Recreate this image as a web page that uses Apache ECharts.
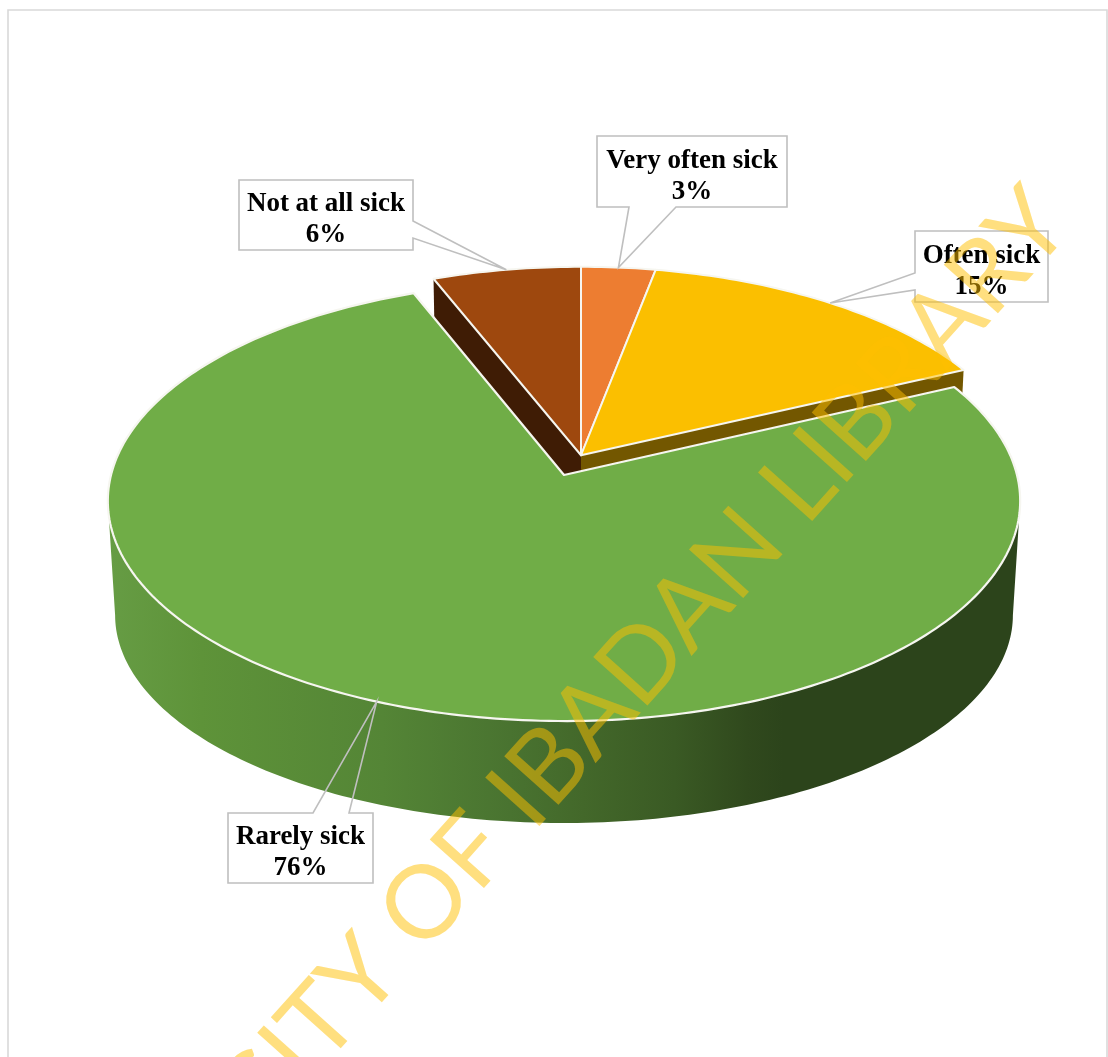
<!DOCTYPE html>
<html>
<head>
<meta charset="utf-8">
<script src="https://cdn.jsdelivr.net/npm/echarts@6/dist/echarts.min.js"></script>
<style>html,body{margin:0;padding:0;background:#fff}#chart{width:1108px;height:1057px}</style>
</head>
<body>
<div id="chart"></div>
<script>
// Self-reported frequency of sickness, clockwise from twelve o'clock
const categories = ['Very often sick', 'Often sick', 'Rarely sick', 'Not at all sick'];
const shares = [3, 15, 76, 6];
const exploded = [true, true, false, true];
const topColors = ['#ed7d31', '#fbbf00', '#70ad47', '#9e480e'];
const sideColors = ['#8e4b1d', '#735700', '#3f6428', '#3f1c05'];

// Perspective model of the disc: unit-circle coordinates are projected to the screen
const disc = { cx: 564, cy: 475, a: 453, b: 217, p: 0.118, drop: 115.5, baseX: 0.984, baseY: 0.945 };
const seated = { v: 0, r: 1, shiftX: 0 };
const pulledOut = { v: -0.092, r: 0.99, shiftX: 17 };
const total = shares.reduce((s, v) => s + v, 0);

function project(u, v, base) {
  const d = 1 - disc.p * v;
  const x = disc.a * u / d, y = disc.b * v / d;
  return base
    ? [disc.cx + disc.baseX * x, disc.cy + disc.drop + disc.baseY * y]
    : [disc.cx + x, disc.cy + y];
}
// Fraction of the full turn -> screen point on the rim of a slice
function rimPoint(frac, off, base) {
  const t = frac * 2 * Math.PI;
  const p = project(off.r * Math.sin(t), -off.r * Math.cos(t) + off.v, base);
  return [p[0] + off.shiftX, p[1]];
}
function apexPoint(off, base) {
  const p = project(0, off.v, base);
  return [p[0] + off.shiftX, p[1]];
}
function arc(f0, f1, off, base) {
  const pts = [], n = Math.max(8, Math.ceil((f1 - f0) * 360));
  for (let i = 0; i <= n; i++) pts.push(rimPoint(f0 + (f1 - f0) * i / n, off, base));
  return pts;
}
function startFraction(idx) {
  let s = 0;
  for (let i = 0; i < idx; i++) s += shares[i];
  return s / total;
}

// Callout boxes: [left, top, right, bottom] and the pair of wedge roots on one edge
const calloutLayout = [
  { box: [597, 136, 787, 207], root: [[676, 207], [629, 207]] },
  { box: [915, 231, 1048, 302], root: [[915, 290], [915, 273]] },
  { box: [228, 813, 373, 883], root: [[313, 813], [349, 813]] },
  { box: [239, 180, 413, 250], root: [[413, 221], [413, 238]] }
];
const calloutFont = 'bold 27px "Liberation Serif"';
const calloutLine = '#bfbfbf';

// Side wall shading of the disc, left to right
const wallStops = [
  [0, '#669c44'], [0.10, '#5e9339'], [0.30, '#548536'], [0.44, '#497330'],
  [0.52, '#43682a'], [0.62, '#3a5a24'], [0.70, '#30491d'], [0.74, '#2c441b'], [1, '#2c441b']
];

function calloutOutline(i, tip) {
  const L = calloutLayout[i], [l, t, r, b] = L.box, [a, c] = L.root;
  const corners = [[l, t], [r, t], [r, b], [l, b]];
  // walk the box clockwise and break into the wedge on the edge holding the roots
  const pts = [];
  const edges = [[0, 1], [1, 2], [2, 3], [3, 0]];
  edges.forEach(([p, q]) => {
    pts.push(corners[p]);
    const P = corners[p], Q = corners[q];
    const on = (m) => (P[0] === Q[0] && m[0] === P[0]) || (P[1] === Q[1] && m[1] === P[1]);
    if (on(a) && on(c)) {
      const dist = (m) => Math.hypot(m[0] - P[0], m[1] - P[1]);
      const [near, far] = dist(a) < dist(c) ? [a, c] : [c, a];
      pts.push(near, tip, far);
    }
  });
  return pts;
}

function renderSlice(params, api) {
  const i = params.dataIndex;
  const value = api.value(0);
  const f0 = startFraction(i), f1 = f0 + value / total, mid = (f0 + f1) / 2;
  const off = exploded[i] ? pulledOut : seated;
  const apex = apexPoint(off, false), apexBase = apexPoint(off, true);
  const children = [];
  const edge = { stroke: '#f6f6f0', lineWidth: 2, lineJoin: 'round' };

  if (exploded[i]) {
    // radial walls of the pulled-out slices; the main slice hides their lower part
    [f0, f1].forEach((f) => {
      const top = rimPoint(f, off, false), low = rimPoint(f, off, true);
      children.push({
        type: 'polygon', z2: 5,
        shape: { points: [apex, top, low, apexBase] },
        style: { fill: sideColors[i] }
      });
    });
    children.push({
      type: 'polygon', z2: 10,
      shape: { points: [apex].concat(arc(f0, f1, off, false)) },
      style: Object.assign({ fill: topColors[i] }, edge)
    });
  } else {
    // front wall spans the rim between the two horizontal extremes of the disc
    const startWall = 0.269, endWall = 0.731;
    const front = arc(startWall, endWall, off, false);
    const back = arc(startWall, endWall, off, true).reverse();
    children.push({
      type: 'polygon', z2: 20,
      shape: { points: front.concat(back) },
      style: {
        fill: { type: 'linear', x: 110, y: 0, x2: 1020, y2: 0, global: true,
          colorStops: wallStops.map(([offset, color]) => ({ offset, color })) }
      }
    });
    children.push({
      type: 'polygon', z2: 30,
      shape: { points: [apex].concat(arc(f0, f1, off, false)) },
      style: Object.assign({ fill: topColors[i] }, edge, { lineWidth: 2.2 })
    });
  }

  // callout: a white box, then the outline whose leader wedge lands mid-slice on the rim
  const tip = rimPoint(mid, off, false);
  const box = calloutLayout[i].box;
  children.push({
    type: 'rect', z2: 40,
    shape: { x: box[0], y: box[1], width: box[2] - box[0], height: box[3] - box[1] },
    style: { fill: '#fff' }
  });
  children.push({
    type: 'polygon', z2: 41,
    shape: { points: calloutOutline(i, tip) },
    style: { fill: 'none', stroke: calloutLine, lineWidth: 1.6, lineJoin: 'miter' }
  });
  children.push({
    type: 'text', z2: 42,
    style: {
      text: categories[i] + '\n' + value + '%',
      x: (box[0] + box[2]) / 2, y: (box[1] + box[3]) / 2 + 5,
      align: 'center', verticalAlign: 'middle',
      font: calloutFont, lineHeight: 31, fill: '#000'
    }
  });
  return { type: 'group', children };
}

const chart = echarts.init(document.getElementById('chart'), null, { renderer: 'canvas' });
chart.setOption({
  backgroundColor: '#fff',
  animation: false,
  tooltip: { show: false },
  graphic: [
    {
      type: 'rect', z: 0, silent: true,
      shape: { x: 8, y: 10, width: 1099, height: 1100 },
      style: { fill: 'transparent', stroke: '#d9d9d9', lineWidth: 1.6 }
    },
    {
      type: 'text', z: 100, silent: true,
      x: 1088, y: 240, rotation: 48.2 * Math.PI / 180,
      style: {
        text: 'UNIVERSITY OF IBADAN LIBRARY',
        align: 'right', verticalAlign: 'bottom',
        font: '101.5px Lato', fill: '#ffc000', opacity: 0.5
      }
    }
  ],
  series: [{
    type: 'custom',
    coordinateSystem: 'none',
    silent: true,
    renderItem: renderSlice,
    data: categories.map((name, i) => ({ name, value: shares[i] }))
  }]
});
</script>
</body>
</html>
